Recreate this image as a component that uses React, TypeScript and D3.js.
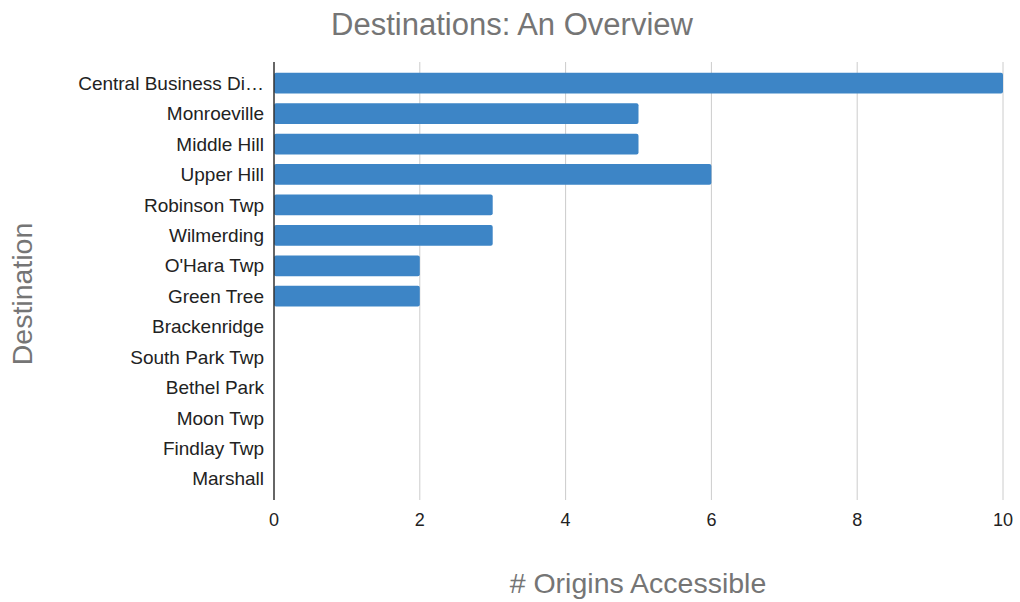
import React from "react";
import * as d3 from "d3";

const categories = [
  "Central Business Di…",
  "Monroeville",
  "Middle Hill",
  "Upper Hill",
  "Robinson Twp",
  "Wilmerding",
  "O'Hara Twp",
  "Green Tree",
  "Brackenridge",
  "South Park Twp",
  "Bethel Park",
  "Moon Twp",
  "Findlay Twp",
  "Marshall",
];
const values = [10, 5, 5, 6, 3, 3, 2, 2, 0, 0, 0, 0, 0, 0];
const xTicks = [0, 2, 4, 6, 8, 10];
const title = "Destinations: An Overview";
const xTitle = "# Origins Accessible";
const yTitle = "Destination";

const W = 1020;
const H = 602;
const left = 274;
const right = 1003;
const top = 62;
const bottom = 500;
const font = "'Liberation Sans', Arial, sans-serif";

export default function App() {
  const x = d3.scaleLinear().domain([0, 10]).range([left, right]);
  const y = d3
    .scaleBand<string>()
    .domain(categories)
    .range([top, bottom])
    .paddingInner(0.32)
    .paddingOuter(0.355);

  return (
    <svg
      width={W}
      height={H}
      style={{ position: "absolute", left: 0, top: 0, background: "#fff" }}
      fontFamily={font}
    >
      <text x={512} y={35} textAnchor="middle" fontSize={31} fill="#757575">
        {title}
      </text>
      {xTicks.map((t) => (
        <g key={t}>
          {t !== 0 && (
            <line x1={x(t)} x2={x(t)} y1={top} y2={bottom} stroke="#cccccc" strokeWidth={1} />
          )}
          <text x={x(t)} y={526} textAnchor="middle" fontSize={18} fill="#222">
            {t}
          </text>
        </g>
      ))}
      {categories.map((c, i) => {
        const yy = y(c)!;
        const v = values[i];
        return (
          <g key={c}>
            {v > 0 && (
              <rect
                x={x(0)}
                y={yy}
                width={x(v) - x(0)}
                height={y.bandwidth()}
                rx={2}
                fill="#3d85c6"
              />
            )}
            <text
              x={264}
              y={yy + y.bandwidth() / 2}
              dy="0.35em"
              textAnchor="end"
              fontSize={19}
              fill="#222"
            >
              {c}
            </text>
          </g>
        );
      })}
      <line x1={left} x2={left} y1={top} y2={bottom} stroke="#333" strokeWidth={1.5} />
      <text x={638} y={593} textAnchor="middle" fontSize={28.5} fill="#757575">
        {xTitle}
      </text>
      <text
        transform={`translate(32,294) rotate(-90)`}
        textAnchor="middle"
        fontSize={28.5}
        fill="#757575"
      >
        {yTitle}
      </text>
    </svg>
  );
}
